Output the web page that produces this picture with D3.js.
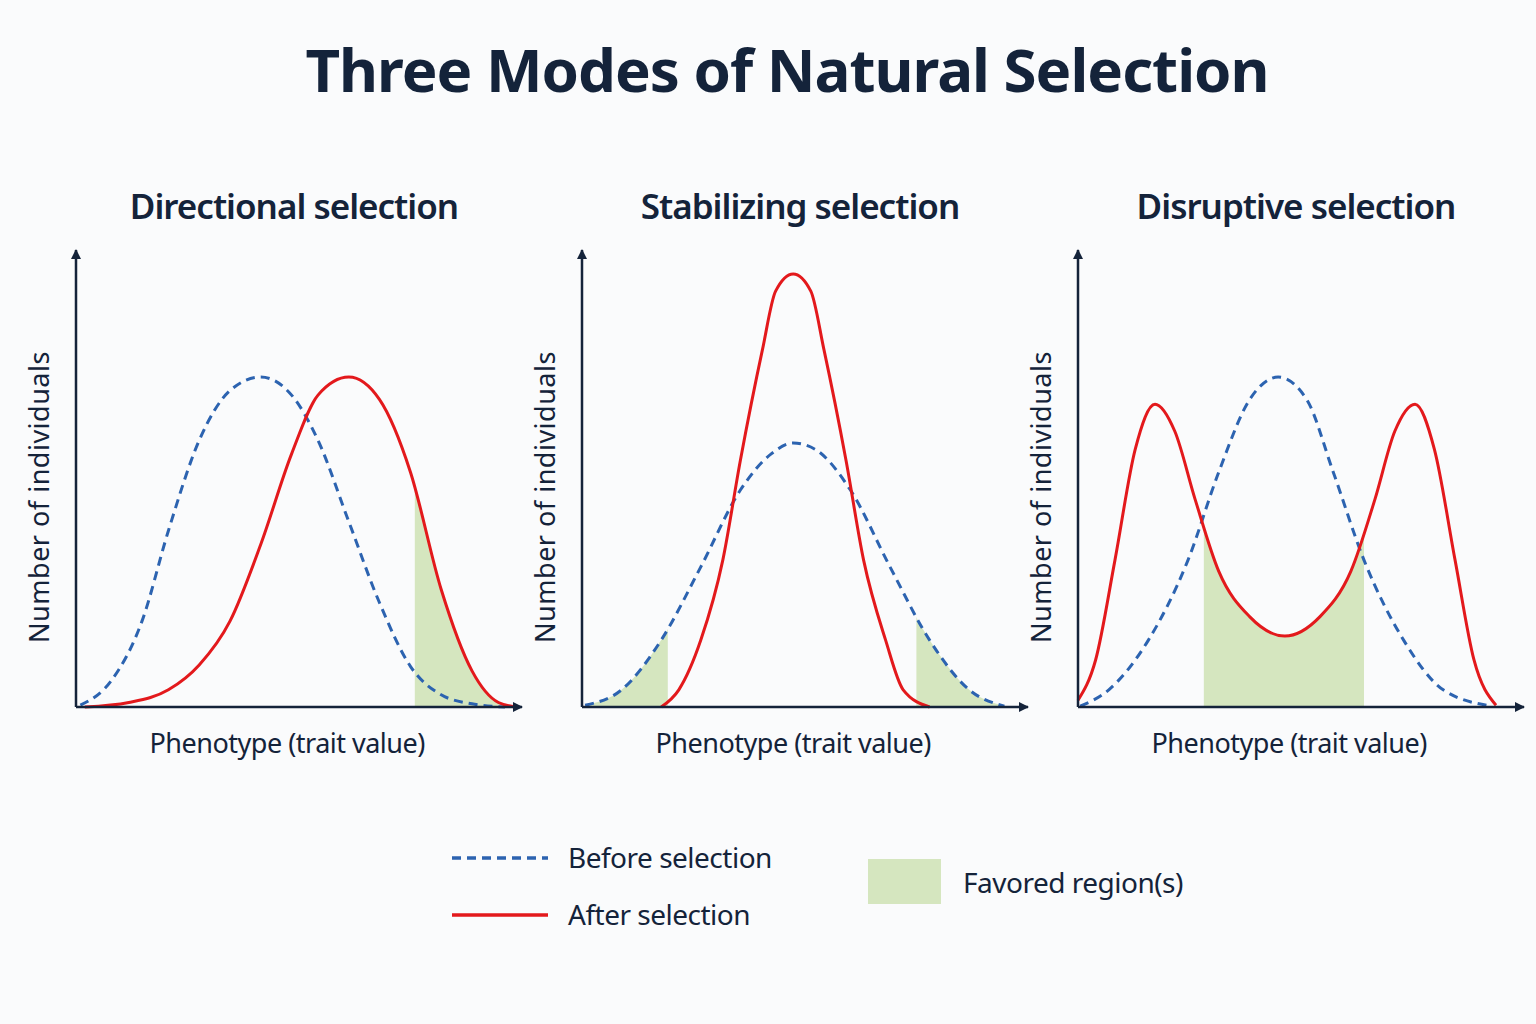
<!DOCTYPE html>
<html><head><meta charset="utf-8">
<script src="https://cdn.jsdelivr.net/npm/d3@7"></script>
<style>body{margin:0;background:#fafbfc}text{font-family:"Noto Sans",sans-serif;fill:#14233a}</style>
</head><body><svg id="c" width="1536" height="1024"></svg>
<script>
const panelTitles=["Directional selection","Stabilizing selection","Disruptive selection"];
const beforeX=[[0.1,0.8,1.5,2.1,2.8,3.5,4.2,4.9,5.5,6.2,6.9,7.6,8.3,9.0,9.75],
 [0.07,0.9,1.8,2.7,3.6,4.3,4.8,5.3,6.1,7.0,7.9,8.8,9.6],
 [0.05,0.7,1.6,2.5,3.2,3.9,4.55,5.2,5.8,6.5,7.4,8.3,9.4]];
const beforeY=[[0.4,5.8,19,39,59,70,73,69,59,41,23,9,2.7,0.7,0],
 [0.4,3.8,14.8,31,48,56,58.4,57,48,31,14.8,3.8,0.2],
 [0.2,3.8,14.8,32.5,52,68,73,68,52,32.5,14.8,3.8,0.2]];
const afterX=[[0.2,1.2,2.1,2.8,3.5,4.2,4.9,5.5,6.2,6.9,7.6,8.3,9.0,9.6,10],
 [1.8,2.2,2.7,3.2,3.6,4.1,4.4,4.8,5.2,5.5,6.0,6.4,6.9,7.3,7.9],
 [0,0.4,0.84,1.3,1.75,2.2,2.66,3.2,3.9,4.7,5.5,6.2,6.75,7.2,7.66,8.1,8.57,9.0,9.5]];
const afterY=[[0,1,3.8,9.3,19,36,56,69,73,68,52,26,8,1,0],
 [0,3.8,14.8,32.5,54.6,79,92,95.8,92,79,54.6,32.5,14.8,3.8,0],
 [1.5,10.4,32.5,57,67,61,46,30,20,15.7,20,30,46,61,67,57,32.5,10.4,0.4]];
const favored=[[[7.7,10,"after"]],[[0,1.95,"before"],[7.6,10,"before"]],[[2.86,6.5,"after"]]];
const panelX=[76,582,1078];

const svg=d3.select("#c");
svg.append("text").attr("x",787).attr("y",92).attr("text-anchor","middle")
 .attr("font-size",60).attr("font-weight",700).attr("letter-spacing",-1).text("Three Modes of Natural Selection");
const defs=svg.append("defs");
defs.append("marker").attr("id","arr").attr("viewBox","0 0 10 10").attr("refX",9).attr("refY",5)
 .attr("markerWidth",10).attr("markerHeight",10).attr("markerUnits","userSpaceOnUse").attr("orient","auto")
 .append("path").attr("d","M0,0L10,5L0,10z").attr("fill","#14233a");

const W=440,H=452,base=707;
const cv=d3.curveMonotoneX;
panelTitles.forEach((t,i)=>{
 const g=svg.append("g").attr("transform",`translate(${panelX[i]},0)`);
 const x=d3.scaleLinear().domain([0,10]).range([0,W]);
 const y=d3.scaleLinear().domain([0,100]).range([base,base-H]);
 const line=d3.line().x(d=>x(d[0])).y(d=>y(d[1])).curve(cv);
 const bp=beforeX[i].map((v,k)=>[v,beforeY[i][k]]);
 const ap=afterX[i].map((v,k)=>[v,afterY[i][k]]);
 favored[i].forEach((f,k)=>{
  const id=`cl${i}_${k}`;
  defs.append("clipPath").attr("id",id).append("rect").attr("x",x(f[0])).attr("y",0).attr("width",x(f[1])-x(f[0])).attr("height",base);
  const pts=f[2]==="after"?ap:bp;
  const area=d3.area().x(d=>x(d[0])).y0(y(0)).y1(d=>y(d[1])).curve(cv);
  g.append("path").attr("d",area(pts)).attr("fill","#d5e6bf").attr("clip-path",`url(#${id})`);
 });
 g.append("path").attr("d",line(bp)).attr("fill","none").attr("stroke","#2c63b0").attr("stroke-width",3).attr("stroke-dasharray","9,6");
 g.append("path").attr("d",line(ap)).attr("fill","none").attr("stroke","#e3191c").attr("stroke-width",3);
 g.append("line").attr("x1",0).attr("y1",base).attr("x2",0).attr("y2",250).attr("stroke","#14233a").attr("stroke-width",2.5).attr("marker-end","url(#arr)");
 g.append("line").attr("x1",0).attr("y1",base).attr("x2",W+6).attr("y2",base).attr("stroke","#14233a").attr("stroke-width",2.5).attr("marker-end","url(#arr)");
 g.append("text").attr("x",x(5)-2).attr("y",219).attr("text-anchor","middle").attr("font-size",35).attr("font-weight",600).attr("letter-spacing",-1).text(t);
 g.append("text").attr("x",x(4.8)).attr("y",753).attr("text-anchor","middle").attr("font-size",27).attr("letter-spacing",-0.5).text("Phenotype (trait value)");
 g.append("text").attr("transform",`translate(-27,497) rotate(-90)`).attr("text-anchor","middle").attr("font-size",27).attr("letter-spacing",0.5).text("Number of individuals");
});
svg.append("line").attr("x1",452).attr("x2",548).attr("y1",858).attr("y2",858).attr("stroke","#2c63b0").attr("stroke-width",3.5).attr("stroke-dasharray","9,6");
svg.append("text").attr("x",568).attr("y",868).attr("font-size",28).attr("letter-spacing",-0.5).text("Before selection");
svg.append("line").attr("x1",452).attr("x2",548).attr("y1",915).attr("y2",915).attr("stroke","#e3191c").attr("stroke-width",3.5);
svg.append("text").attr("x",568).attr("y",925).attr("font-size",28).attr("letter-spacing",-0.5).text("After selection");
svg.append("rect").attr("x",868).attr("y",859).attr("width",73).attr("height",45).attr("fill","#d5e6bf");
svg.append("text").attr("x",963).attr("y",893).attr("font-size",28).attr("letter-spacing",-0.5).text("Favored region(s)");
</script></body></html>
